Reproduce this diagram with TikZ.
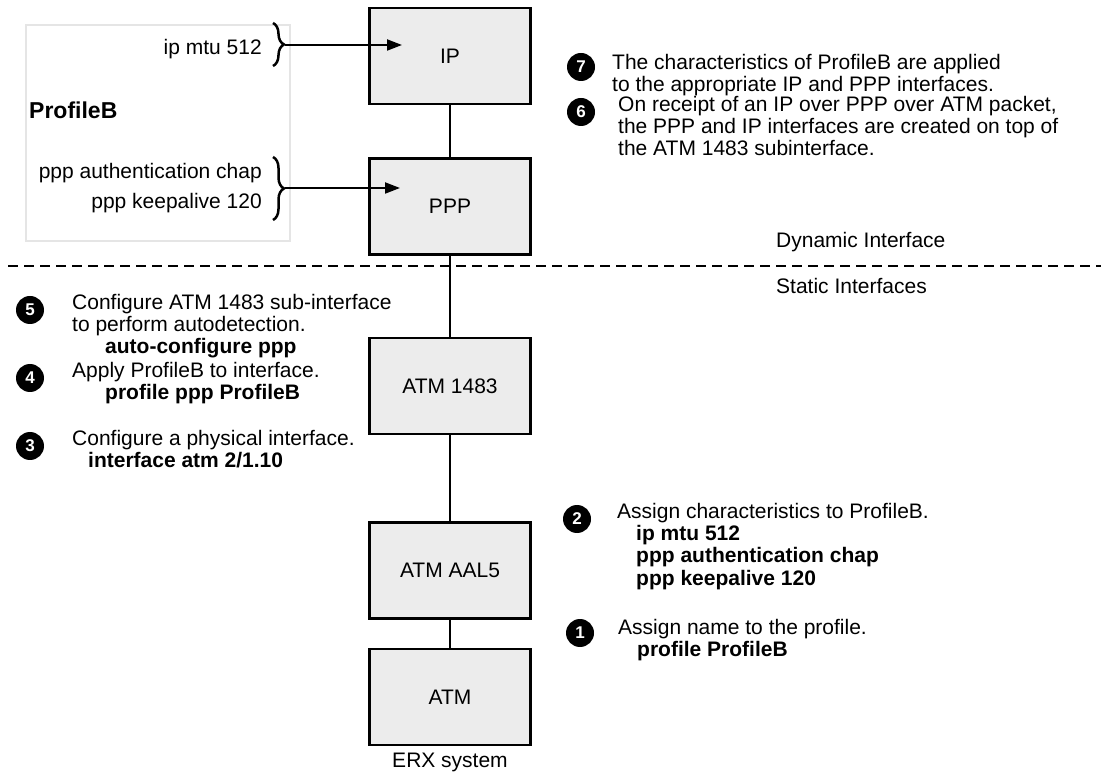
\documentclass[tikz,border=0pt]{standalone}
\usepackage{fontspec}
\setmainfont{Liberation Sans}
\usetikzlibrary{positioning, arrows.meta, decorations.pathreplacing}

\begin{document}
\begin{tikzpicture}[
    x=1pt, y=-1pt,
    every node/.style={font=\fontsize{21}{22}\selectfont},
    layer/.style={rectangle, draw, line width=2.5pt, fill=gray!15, minimum width=161pt, minimum height=96pt},
    frame/.style={rectangle, draw=gray!20, line width=1.5pt, minimum width=264pt, minimum height=216pt},
    badge/.style={circle, fill=black, text=white, font=\fontsize{17}{17}\selectfont\bfseries, minimum size=28pt, inner sep=0pt},
    steptext/.style={anchor=north west, align=left, inner sep=0pt},
    label/.style={inner sep=0pt},
    link/.style={line width=2pt},
    arrow/.style={-{Triangle[length=15pt, width=11pt]}, line width=2pt},
    bracket/.style={decorate, decoration={brace, amplitude=11pt}, line width=2.5pt},
    divider/.style={line width=2pt, dash pattern=on 10pt off 6pt}
]
\useasboundingbox (0,0) rectangle (1101,775);

% Interface stack
\node[layer] (ip) at (450,56) {IP};
\node[layer, below=52pt of ip] (ppp) {PPP};
\node[layer, below=81pt of ppp] (atm1483) {ATM 1483};
\node[layer, below=86pt of atm1483] (aal5) {ATM AAL5};
\node[layer, below=28pt of aal5] (atm) {ATM};
\node[label] (erx) at (450,762) {ERX system};

% Stack links
\draw[link] (ip) -- (ppp);
\draw[link] (ppp) -- (atm1483);
\draw[link] (atm1483) -- (aal5);
\draw[link] (aal5) -- (atm);

% Profile
\node[frame] (profile) at (158,133) {};
\node[label, anchor=west, font=\fontsize{23}{24}\selectfont\bfseries] (pname) at (29,110) {ProfileB};
\node[label, anchor=east] (mtu) at (262,49) {ip mtu 512};
\node[label, anchor=east, align=right] (pppcfg) at (262,188) {ppp authentication chap\\[8pt]ppp keepalive 120};

% Braces and arrows
\draw[bracket] (273,23) -- (273,66);
\coordinate (mtutip) at (285,45);
\coordinate (ipin) at (402,45);
\draw[arrow] (mtutip) -- (ipin);
\draw[bracket] (273,157) -- (273,220);
\coordinate (ppptip) at (285,188);
\coordinate (pppin) at (400,188);
\draw[arrow] (ppptip) -- (pppin);

% Dynamic / static split
\draw[divider] (8,266) -- (1101,266);
\node[label, anchor=west] (dyn) at (776,242) {Dynamic Interface};
\node[label, anchor=west] (stat) at (776,286) {Static Interfaces};

% Steps
\node[badge] (c7) at (581,67) {7};
\node[steptext] (t7) at (612,54) {The characteristics of ProfileB are applied\\to the appropriate IP and PPP interfaces.};

\node[badge] (c6) at (581,112) {6};
\node[steptext] (t6) at (618,96) {On receipt of an IP over PPP over ATM packet,\\the PPP and IP interfaces are created on top of\\the ATM 1483 subinterface.};

\node[badge] (c5) at (30,310) {5};
\node[steptext] (t5) at (72,294) {Configure ATM 1483 sub-interface\\to perform autodetection.\\\hspace*{33pt}\textbf{auto-configure ppp}};

\node[badge] (c4) at (30,378) {4};
\node[steptext] (t4) at (72,362) {Apply ProfileB to interface.\\\hspace*{33pt}\textbf{profile ppp ProfileB}};

\node[badge] (c3) at (30,446) {3};
\node[steptext] (t3) at (72,430) {Configure a physical interface.\\\hspace*{16pt}\textbf{interface atm 2/1.10}};

\node[badge] (c2) at (577,519) {2};
\node[steptext] (t2) at (617,503) {Assign characteristics to ProfileB.\\\hspace*{19pt}\textbf{ip mtu 512}\\\hspace*{19pt}\textbf{ppp authentication chap}\\[1pt]\hspace*{19pt}\textbf{ppp keepalive 120}};

\node[badge] (c1) at (580,633) {1};
\node[steptext] (t1) at (618,619) {Assign name to the profile.\\\hspace*{19pt}\textbf{profile ProfileB}};
\end{tikzpicture}
\end{document}
